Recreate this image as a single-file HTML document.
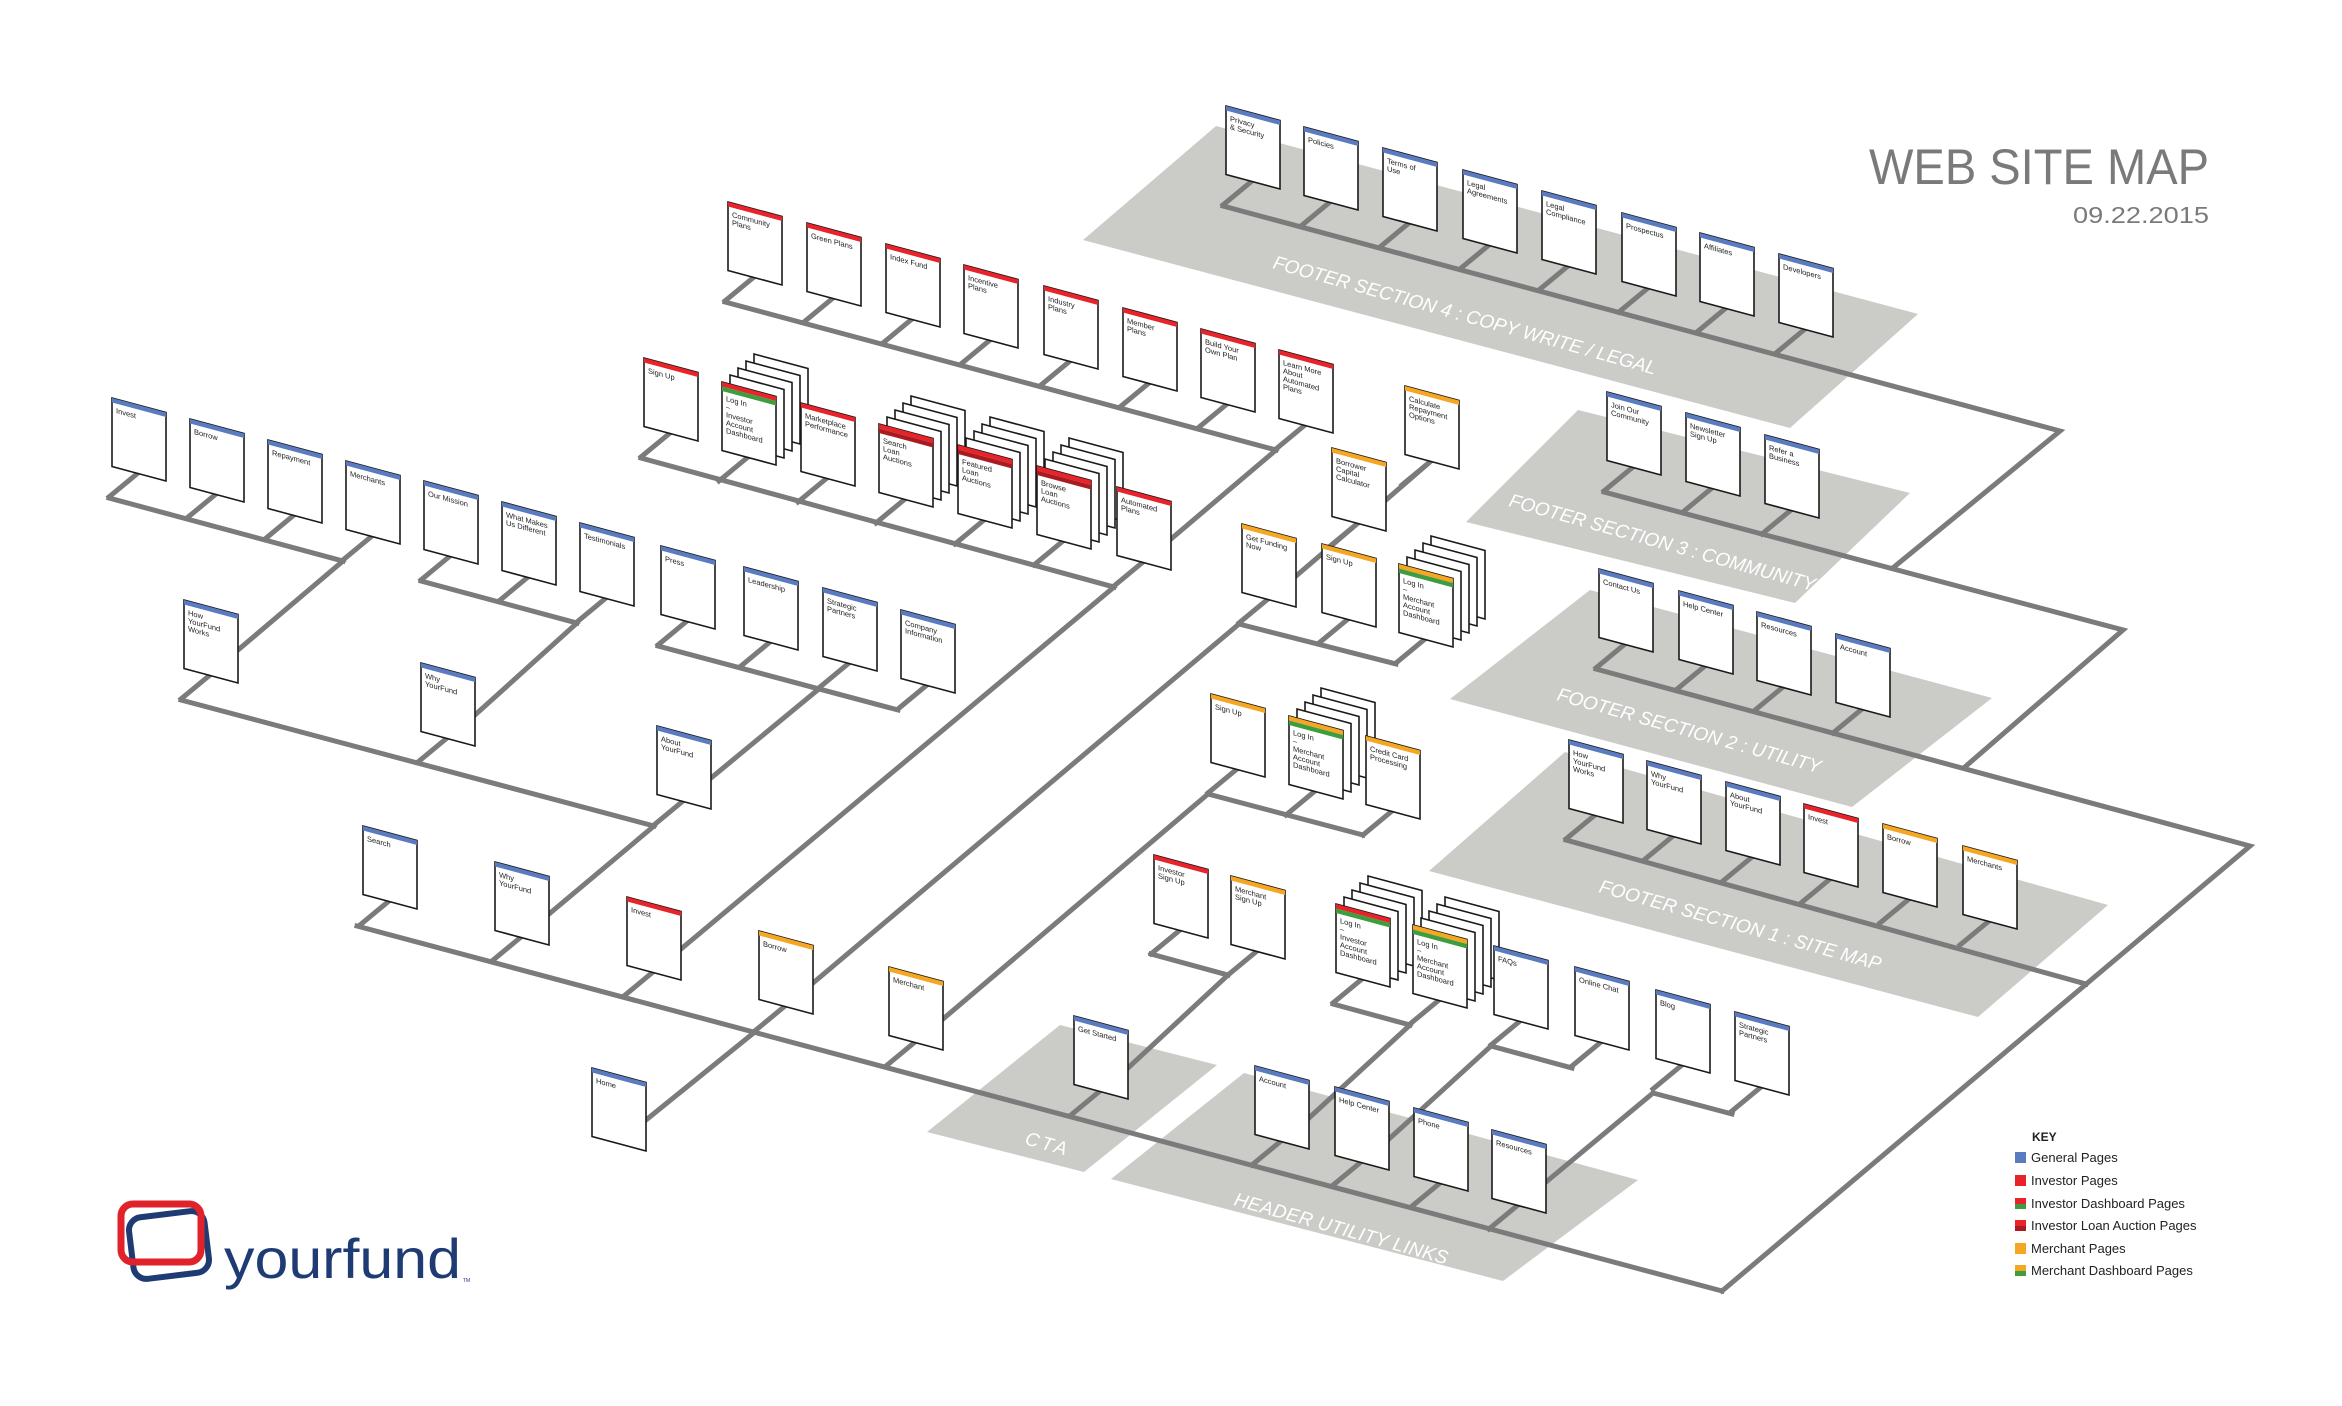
<!DOCTYPE html>
<html><head><meta charset="utf-8"><style>
html,body{margin:0;padding:0;background:#fff;}
svg{display:block}
.ln{stroke:#7b7b7b;stroke-width:5;fill:none;stroke-linecap:square}
.pg{fill:#fff;stroke:#1a1a1a;stroke-width:1.6}
.t{font-family:"Liberation Sans Narrow","Liberation Sans",sans-serif;font-size:7.5px;fill:#222}
.pl{fill:#cbcbc8}
.lb{font-family:"Liberation Sans",sans-serif;font-style:italic;font-size:19px;fill:#fff;letter-spacing:3px}
.lg{font-family:"Liberation Sans Narrow","Liberation Sans",sans-serif;font-size:13px;fill:#222}
</style></head><body>
<svg width="2342" height="1406" viewBox="0 0 2342 1406" xmlns="http://www.w3.org/2000/svg">
<defs>
<symbol id="p" overflow="visible"><path class="pg" d="M0 0L54 14.5L54 83L0 68.5Z"/></symbol>
</defs>

<!-- platforms -->
<path class="pl" d="M1083 240L1216 126L1918 314L1790 428Z"/>
<path class="pl" d="M1466 522L1578 410L1910 493L1795 603Z"/>
<path class="pl" d="M1450 699L1590 590L1992 698L1852 807Z"/>
<path class="pl" d="M1429 871L1565 752L2108 905L1978 1017Z"/>
<path class="pl" d="M927 1132L1060 1025L1217 1065L1084 1172Z"/>
<path class="pl" d="M1111 1179L1244 1073L1638 1180L1503 1281Z"/>

<text class="lb" transform="translate(1272,268) rotate(15.6)" textLength="400" lengthAdjust="spacing">FOOTER SECTION 4 : COPY WRITE / LEGAL</text>
<text class="lb" transform="translate(1508,506) rotate(15.6)" textLength="320" lengthAdjust="spacing">FOOTER SECTION 3 : COMMUNITY</text>
<text class="lb" transform="translate(1556,700) rotate(15.6)" textLength="276" lengthAdjust="spacing">FOOTER SECTION 2 : UTILITY</text>
<text class="lb" transform="translate(1598,892) rotate(15.6)" textLength="295" lengthAdjust="spacing">FOOTER SECTION 1 : SITE MAP</text>
<text class="lb" transform="translate(1024,1144) rotate(15.6)">CTA</text>
<text class="lb" transform="translate(1233,1205) rotate(15.6)" textLength="224" lengthAdjust="spacing">HEADER UTILITY LINKS</text>

<!-- row lines & connectors -->
<g class="ln">
<path d="M109 498L343 561"/>
<path d="M181 700L654 826"/>
<path d="M421 581L577 623"/>
<path d="M658 646L898 710"/>
<path d="M357 926L1722 1291"/>
<path d="M641 458L1114 587"/>
<path d="M725 302L1276 450"/>
<path d="M1239 624L1396 664"/>
<path d="M1208 794L1363 835"/>
<path d="M1151 954L1228 975"/>
<path d="M1333 1004L1410 1025"/>
<path d="M1491 1046L1572 1068"/>
<path d="M1653 1093L1732 1114"/>
<path d="M1223 206L2060 431L1894 567"/>
<path d="M1604 492L2123 630L1966 766"/>
<path d="M1596 669L2250 846L1722 1291"/>
<path d="M1566 840L2086 984"/>
<path d="M238 650L343 561"/>
<path d="M475 715L577 623"/>
<path d="M711 778L820 688"/>
<path d="M549 914L654 826"/>
<path d="M681 949L1114 587"/>
<path d="M1171 539L1276 450"/>
<path d="M813 983L1239 624"/>
<path d="M646 1120L756 1031"/>
<path d="M1296 576L1358 523"/>
<path d="M1386 500L1431 461"/>
<path d="M943 1019L1208 794"/>
<path d="M1128 1068L1228 975"/>
<path d="M1309 1118L1410 1025"/>
<path d="M1389 1139L1491 1046"/>
<path d="M1546 1182L1653 1093"/>
</g>

<!-- ===== pages ===== -->
<!-- Footer 4 -->
<g transform="translate(1226,106)"><path class="ln" d="M26 75L-3 99"/><use href="#p"/><path fill="#5b7bc0" d="M0 0L54 14.5V19L0 4.5Z"/><text class="t" transform="matrix(1 .27 0 1 0 0)"><tspan x="4" y="14">Privacy</tspan><tspan x="4" y="22">&amp; Security</tspan></text></g>
<g transform="translate(1304,127)"><path class="ln" d="M26 75L-3 99"/><use href="#p"/><path fill="#5b7bc0" d="M0 0L54 14.5V19L0 4.5Z"/><text class="t" transform="matrix(1 .27 0 1 0 0)"><tspan x="4" y="14">Policies</tspan></text></g>
<g transform="translate(1383,148)"><path class="ln" d="M26 75L-3 99"/><use href="#p"/><path fill="#5b7bc0" d="M0 0L54 14.5V19L0 4.5Z"/><text class="t" transform="matrix(1 .27 0 1 0 0)"><tspan x="4" y="14">Terms of</tspan><tspan x="4" y="22">Use</tspan></text></g>
<g transform="translate(1463,170)"><path class="ln" d="M26 75L-3 99"/><use href="#p"/><path fill="#5b7bc0" d="M0 0L54 14.5V19L0 4.5Z"/><text class="t" transform="matrix(1 .27 0 1 0 0)"><tspan x="4" y="14">Legal</tspan><tspan x="4" y="22">Agreements</tspan></text></g>
<g transform="translate(1542,191)"><path class="ln" d="M26 75L-3 99"/><use href="#p"/><path fill="#5b7bc0" d="M0 0L54 14.5V19L0 4.5Z"/><text class="t" transform="matrix(1 .27 0 1 0 0)"><tspan x="4" y="14">Legal</tspan><tspan x="4" y="22">Compliance</tspan></text></g>
<g transform="translate(1622,213)"><path class="ln" d="M26 75L-3 99"/><use href="#p"/><path fill="#5b7bc0" d="M0 0L54 14.5V19L0 4.5Z"/><text class="t" transform="matrix(1 .27 0 1 0 0)"><tspan x="4" y="14">Prospectus</tspan></text></g>
<g transform="translate(1700,233)"><path class="ln" d="M26 75L-3 99"/><use href="#p"/><path fill="#5b7bc0" d="M0 0L54 14.5V19L0 4.5Z"/><text class="t" transform="matrix(1 .27 0 1 0 0)"><tspan x="4" y="14">Affiliates</tspan></text></g>
<g transform="translate(1779,254)"><path class="ln" d="M26 75L-3 99"/><use href="#p"/><path fill="#5b7bc0" d="M0 0L54 14.5V19L0 4.5Z"/><text class="t" transform="matrix(1 .27 0 1 0 0)"><tspan x="4" y="14">Developers</tspan></text></g>

<!-- Footer 3 -->
<g transform="translate(1607,392)"><path class="ln" d="M26 75L-3 99"/><use href="#p"/><path fill="#5b7bc0" d="M0 0L54 14.5V19L0 4.5Z"/><text class="t" transform="matrix(1 .27 0 1 0 0)"><tspan x="4" y="14">Join Our</tspan><tspan x="4" y="22">Community</tspan></text></g>
<g transform="translate(1686,413)"><path class="ln" d="M26 75L-3 99"/><use href="#p"/><path fill="#5b7bc0" d="M0 0L54 14.5V19L0 4.5Z"/><text class="t" transform="matrix(1 .27 0 1 0 0)"><tspan x="4" y="14">Newsletter</tspan><tspan x="4" y="22">Sign Up</tspan></text></g>
<g transform="translate(1765,435)"><path class="ln" d="M26 75L-3 99"/><use href="#p"/><path fill="#5b7bc0" d="M0 0L54 14.5V19L0 4.5Z"/><text class="t" transform="matrix(1 .27 0 1 0 0)"><tspan x="4" y="14">Refer a</tspan><tspan x="4" y="22">Business</tspan></text></g>

<!-- Footer 2 -->
<g transform="translate(1599,569)"><path class="ln" d="M26 75L-3 99"/><use href="#p"/><path fill="#5b7bc0" d="M0 0L54 14.5V19L0 4.5Z"/><text class="t" transform="matrix(1 .27 0 1 0 0)"><tspan x="4" y="14">Contact Us</tspan></text></g>
<g transform="translate(1679,591)"><path class="ln" d="M26 75L-3 99"/><use href="#p"/><path fill="#5b7bc0" d="M0 0L54 14.5V19L0 4.5Z"/><text class="t" transform="matrix(1 .27 0 1 0 0)"><tspan x="4" y="14">Help Center</tspan></text></g>
<g transform="translate(1757,612)"><path class="ln" d="M26 75L-3 99"/><use href="#p"/><path fill="#5b7bc0" d="M0 0L54 14.5V19L0 4.5Z"/><text class="t" transform="matrix(1 .27 0 1 0 0)"><tspan x="4" y="14">Resources</tspan></text></g>
<g transform="translate(1836,634)"><path class="ln" d="M26 75L-3 99"/><use href="#p"/><path fill="#5b7bc0" d="M0 0L54 14.5V19L0 4.5Z"/><text class="t" transform="matrix(1 .27 0 1 0 0)"><tspan x="4" y="14">Account</tspan></text></g>

<!-- Footer 1 -->
<g transform="translate(1569,740)"><path class="ln" d="M26 75L-3 99"/><use href="#p"/><path fill="#5b7bc0" d="M0 0L54 14.5V19L0 4.5Z"/><text class="t" transform="matrix(1 .27 0 1 0 0)"><tspan x="4" y="14">How</tspan><tspan x="4" y="22">YourFund</tspan><tspan x="4" y="30">Works</tspan></text></g>
<g transform="translate(1647,761)"><path class="ln" d="M26 75L-3 99"/><use href="#p"/><path fill="#5b7bc0" d="M0 0L54 14.5V19L0 4.5Z"/><text class="t" transform="matrix(1 .27 0 1 0 0)"><tspan x="4" y="14">Why</tspan><tspan x="4" y="22">YourFund</tspan></text></g>
<g transform="translate(1726,782)"><path class="ln" d="M26 75L-3 99"/><use href="#p"/><path fill="#5b7bc0" d="M0 0L54 14.5V19L0 4.5Z"/><text class="t" transform="matrix(1 .27 0 1 0 0)"><tspan x="4" y="14">About</tspan><tspan x="4" y="22">YourFund</tspan></text></g>
<g transform="translate(1804,804)"><path class="ln" d="M26 75L-3 99"/><use href="#p"/><path fill="#e8232a" d="M0 0L54 14.5V19L0 4.5Z"/><text class="t" transform="matrix(1 .27 0 1 0 0)"><tspan x="4" y="14">Invest</tspan></text></g>
<g transform="translate(1883,824)"><path class="ln" d="M26 75L-3 99"/><use href="#p"/><path fill="#f5a623" d="M0 0L54 14.5V19L0 4.5Z"/><text class="t" transform="matrix(1 .27 0 1 0 0)"><tspan x="4" y="14">Borrow</tspan></text></g>
<g transform="translate(1963,846)"><path class="ln" d="M26 75L-3 99"/><use href="#p"/><path fill="#f5a623" d="M0 0L54 14.5V19L0 4.5Z"/><text class="t" transform="matrix(1 .27 0 1 0 0)"><tspan x="4" y="14">Merchants</tspan></text></g>

<!-- Plans row -->
<g transform="translate(728,202)"><path class="ln" d="M26 75L-3 99"/><use href="#p"/><path fill="#e8232a" d="M0 0L54 14.5V19L0 4.5Z"/><text class="t" transform="matrix(1 .27 0 1 0 0)"><tspan x="4" y="14">Community</tspan><tspan x="4" y="22">Plans</tspan></text></g>
<g transform="translate(807,223)"><path class="ln" d="M26 75L-3 99"/><use href="#p"/><path fill="#e8232a" d="M0 0L54 14.5V19L0 4.5Z"/><text class="t" transform="matrix(1 .27 0 1 0 0)"><tspan x="4" y="14">Green Plans</tspan></text></g>
<g transform="translate(886,244)"><path class="ln" d="M26 75L-3 99"/><use href="#p"/><path fill="#e8232a" d="M0 0L54 14.5V19L0 4.5Z"/><text class="t" transform="matrix(1 .27 0 1 0 0)"><tspan x="4" y="14">Index Fund</tspan></text></g>
<g transform="translate(964,265)"><path class="ln" d="M26 75L-3 99"/><use href="#p"/><path fill="#e8232a" d="M0 0L54 14.5V19L0 4.5Z"/><text class="t" transform="matrix(1 .27 0 1 0 0)"><tspan x="4" y="14">Incentive</tspan><tspan x="4" y="22">Plans</tspan></text></g>
<g transform="translate(1044,286)"><path class="ln" d="M26 75L-3 99"/><use href="#p"/><path fill="#e8232a" d="M0 0L54 14.5V19L0 4.5Z"/><text class="t" transform="matrix(1 .27 0 1 0 0)"><tspan x="4" y="14">Industry</tspan><tspan x="4" y="22">Plans</tspan></text></g>
<g transform="translate(1123,308)"><path class="ln" d="M26 75L-3 99"/><use href="#p"/><path fill="#e8232a" d="M0 0L54 14.5V19L0 4.5Z"/><text class="t" transform="matrix(1 .27 0 1 0 0)"><tspan x="4" y="14">Member</tspan><tspan x="4" y="22">Plans</tspan></text></g>
<g transform="translate(1201,329)"><path class="ln" d="M26 75L-3 99"/><use href="#p"/><path fill="#e8232a" d="M0 0L54 14.5V19L0 4.5Z"/><text class="t" transform="matrix(1 .27 0 1 0 0)"><tspan x="4" y="14">Build Your</tspan><tspan x="4" y="22">Own Plan</tspan></text></g>
<g transform="translate(1279,350)"><path class="ln" d="M26 75L-3 99"/><use href="#p"/><path fill="#e8232a" d="M0 0L54 14.5V19L0 4.5Z"/><text class="t" transform="matrix(1 .27 0 1 0 0)"><tspan x="4" y="14">Learn More</tspan><tspan x="4" y="22">About</tspan><tspan x="4" y="30">Automated</tspan><tspan x="4" y="38">Plans</tspan></text></g>

<!-- Investor row -->
<g transform="translate(644,358)"><path class="ln" d="M26 75L-3 99"/><use href="#p"/><path fill="#e8232a" d="M0 0L54 14.5V19L0 4.5Z"/><text class="t" transform="matrix(1 .27 0 1 0 0)"><tspan x="4" y="14">Sign Up</tspan></text></g>
<g transform="translate(722,382)"><use href="#p" x="32" y="-28"/><use href="#p" x="24" y="-21"/><use href="#p" x="16" y="-14"/><use href="#p" x="8" y="-7"/><path class="ln" d="M26 75L-3 99"/><use href="#p"/><path fill="#e8232a" d="M0 0L54 14.5V19L0 4.5Z"/><path fill="#3e9d3e" d="M0 4.5L54 19V23.5L0 9Z"/><text class="t" transform="matrix(1 .27 0 1 0 0)"><tspan x="4" y="18">Log In</tspan><tspan x="4" y="26">–</tspan><tspan x="4" y="34">Investor</tspan><tspan x="4" y="42">Account</tspan><tspan x="4" y="50">Dashboard</tspan></text></g>
<g transform="translate(801,403)"><path class="ln" d="M26 75L-3 99"/><use href="#p"/><path fill="#e8232a" d="M0 0L54 14.5V19L0 4.5Z"/><text class="t" transform="matrix(1 .27 0 1 0 0)"><tspan x="4" y="14">Marketplace</tspan><tspan x="4" y="22">Performance</tspan></text></g>
<g transform="translate(879,424)"><use href="#p" x="32" y="-28"/><use href="#p" x="24" y="-21"/><use href="#p" x="16" y="-14"/><use href="#p" x="8" y="-7"/><path class="ln" d="M26 75L-3 99"/><use href="#p"/><path fill="#e8232a" d="M0 0L54 14.5V19L0 4.5Z"/><path fill="#a81c21" d="M0 4.5L54 19V23.5L0 9Z"/><text class="t" transform="matrix(1 .27 0 1 0 0)"><tspan x="4" y="18">Search</tspan><tspan x="4" y="26">Loan</tspan><tspan x="4" y="34">Auctions</tspan></text></g>
<g transform="translate(958,445)"><use href="#p" x="32" y="-28"/><use href="#p" x="24" y="-21"/><use href="#p" x="16" y="-14"/><use href="#p" x="8" y="-7"/><path class="ln" d="M26 75L-3 99"/><use href="#p"/><path fill="#e8232a" d="M0 0L54 14.5V19L0 4.5Z"/><path fill="#a81c21" d="M0 4.5L54 19V23.5L0 9Z"/><text class="t" transform="matrix(1 .27 0 1 0 0)"><tspan x="4" y="18">Featured</tspan><tspan x="4" y="26">Loan</tspan><tspan x="4" y="34">Auctions</tspan></text></g>
<g transform="translate(1037,466)"><use href="#p" x="32" y="-28"/><use href="#p" x="24" y="-21"/><use href="#p" x="16" y="-14"/><use href="#p" x="8" y="-7"/><path class="ln" d="M26 75L-3 99"/><use href="#p"/><path fill="#e8232a" d="M0 0L54 14.5V19L0 4.5Z"/><path fill="#a81c21" d="M0 4.5L54 19V23.5L0 9Z"/><text class="t" transform="matrix(1 .27 0 1 0 0)"><tspan x="4" y="18">Browse</tspan><tspan x="4" y="26">Loan</tspan><tspan x="4" y="34">Auctions</tspan></text></g>
<g transform="translate(1117,487)"><path class="ln" d="M26 75L-3 99"/><use href="#p"/><path fill="#e8232a" d="M0 0L54 14.5V19L0 4.5Z"/><text class="t" transform="matrix(1 .27 0 1 0 0)"><tspan x="4" y="14">Automated</tspan><tspan x="4" y="22">Plans</tspan></text></g>

<!-- Merchant area -->
<g transform="translate(1405,386)"><path class="ln" d="M26 75L-3 99"/><use href="#p"/><path fill="#f5a623" d="M0 0L54 14.5V19L0 4.5Z"/><text class="t" transform="matrix(1 .27 0 1 0 0)"><tspan x="4" y="14">Calculate</tspan><tspan x="4" y="22">Repayment</tspan><tspan x="4" y="30">Options</tspan></text></g>
<g transform="translate(1332,448)"><path class="ln" d="M26 75L-3 99"/><use href="#p"/><path fill="#f5a623" d="M0 0L54 14.5V19L0 4.5Z"/><text class="t" transform="matrix(1 .27 0 1 0 0)"><tspan x="4" y="14">Borrower</tspan><tspan x="4" y="22">Capital</tspan><tspan x="4" y="30">Calculator</tspan></text></g>
<g transform="translate(1242,524)"><path class="ln" d="M26 75L-3 99"/><use href="#p"/><path fill="#f5a623" d="M0 0L54 14.5V19L0 4.5Z"/><text class="t" transform="matrix(1 .27 0 1 0 0)"><tspan x="4" y="14">Get Funding</tspan><tspan x="4" y="22">Now</tspan></text></g>
<g transform="translate(1322,544)"><path class="ln" d="M26 75L-3 99"/><use href="#p"/><path fill="#f5a623" d="M0 0L54 14.5V19L0 4.5Z"/><text class="t" transform="matrix(1 .27 0 1 0 0)"><tspan x="4" y="14">Sign Up</tspan></text></g>
<g transform="translate(1399,564)"><use href="#p" x="32" y="-28"/><use href="#p" x="24" y="-21"/><use href="#p" x="16" y="-14"/><use href="#p" x="8" y="-7"/><path class="ln" d="M26 75L-3 99"/><use href="#p"/><path fill="#f5a623" d="M0 0L54 14.5V19L0 4.5Z"/><path fill="#3e9d3e" d="M0 4.5L54 19V23.5L0 9Z"/><text class="t" transform="matrix(1 .27 0 1 0 0)"><tspan x="4" y="18">Log In</tspan><tspan x="4" y="26">–</tspan><tspan x="4" y="34">Merchant</tspan><tspan x="4" y="42">Account</tspan><tspan x="4" y="50">Dashboard</tspan></text></g>

<g transform="translate(1211,694)"><path class="ln" d="M26 75L-3 99"/><use href="#p"/><path fill="#f5a623" d="M0 0L54 14.5V19L0 4.5Z"/><text class="t" transform="matrix(1 .27 0 1 0 0)"><tspan x="4" y="14">Sign Up</tspan></text></g>
<g transform="translate(1289,716)"><use href="#p" x="32" y="-28"/><use href="#p" x="24" y="-21"/><use href="#p" x="16" y="-14"/><use href="#p" x="8" y="-7"/><path class="ln" d="M26 75L-3 99"/><use href="#p"/><path fill="#f5a623" d="M0 0L54 14.5V19L0 4.5Z"/><path fill="#3e9d3e" d="M0 4.5L54 19V23.5L0 9Z"/><text class="t" transform="matrix(1 .27 0 1 0 0)"><tspan x="4" y="18">Log In</tspan><tspan x="4" y="26">–</tspan><tspan x="4" y="34">Merchant</tspan><tspan x="4" y="42">Account</tspan><tspan x="4" y="50">Dashboard</tspan></text></g>
<g transform="translate(1366,736)"><path class="ln" d="M26 75L-3 99"/><use href="#p"/><path fill="#f5a623" d="M0 0L54 14.5V19L0 4.5Z"/><text class="t" transform="matrix(1 .27 0 1 0 0)"><tspan x="4" y="14">Credit Card</tspan><tspan x="4" y="22">Processing</tspan></text></g>

<g transform="translate(1154,855)"><path class="ln" d="M26 75L-3 99"/><use href="#p"/><path fill="#e8232a" d="M0 0L54 14.5V19L0 4.5Z"/><text class="t" transform="matrix(1 .27 0 1 0 0)"><tspan x="4" y="14">Investor</tspan><tspan x="4" y="22">Sign Up</tspan></text></g>
<g transform="translate(1231,876)"><path class="ln" d="M26 75L-3 99"/><use href="#p"/><path fill="#f5a623" d="M0 0L54 14.5V19L0 4.5Z"/><text class="t" transform="matrix(1 .27 0 1 0 0)"><tspan x="4" y="14">Merchant</tspan><tspan x="4" y="22">Sign Up</tspan></text></g>
<g transform="translate(1336,904)"><use href="#p" x="32" y="-28"/><use href="#p" x="24" y="-21"/><use href="#p" x="16" y="-14"/><use href="#p" x="8" y="-7"/><path class="ln" d="M26 75L-3 99"/><use href="#p"/><path fill="#e8232a" d="M0 0L54 14.5V19L0 4.5Z"/><path fill="#3e9d3e" d="M0 4.5L54 19V23.5L0 9Z"/><text class="t" transform="matrix(1 .27 0 1 0 0)"><tspan x="4" y="18">Log In</tspan><tspan x="4" y="26">–</tspan><tspan x="4" y="34">Investor</tspan><tspan x="4" y="42">Account</tspan><tspan x="4" y="50">Dashboard</tspan></text></g>
<g transform="translate(1413,925)"><use href="#p" x="32" y="-28"/><use href="#p" x="24" y="-21"/><use href="#p" x="16" y="-14"/><use href="#p" x="8" y="-7"/><path class="ln" d="M26 75L-3 99"/><use href="#p"/><path fill="#f5a623" d="M0 0L54 14.5V19L0 4.5Z"/><path fill="#3e9d3e" d="M0 4.5L54 19V23.5L0 9Z"/><text class="t" transform="matrix(1 .27 0 1 0 0)"><tspan x="4" y="18">Log In</tspan><tspan x="4" y="26">–</tspan><tspan x="4" y="34">Merchant</tspan><tspan x="4" y="42">Account</tspan><tspan x="4" y="50">Dashboard</tspan></text></g>
<g transform="translate(1494,946)"><path class="ln" d="M26 75L-3 99"/><use href="#p"/><path fill="#5b7bc0" d="M0 0L54 14.5V19L0 4.5Z"/><text class="t" transform="matrix(1 .27 0 1 0 0)"><tspan x="4" y="14">FAQs</tspan></text></g>
<g transform="translate(1575,967)"><path class="ln" d="M26 75L-3 99"/><use href="#p"/><path fill="#5b7bc0" d="M0 0L54 14.5V19L0 4.5Z"/><text class="t" transform="matrix(1 .27 0 1 0 0)"><tspan x="4" y="14">Online Chat</tspan></text></g>
<g transform="translate(1656,990)"><path class="ln" d="M26 75L-3 99"/><use href="#p"/><path fill="#5b7bc0" d="M0 0L54 14.5V19L0 4.5Z"/><text class="t" transform="matrix(1 .27 0 1 0 0)"><tspan x="4" y="14">Blog</tspan></text></g>
<g transform="translate(1735,1012)"><path class="ln" d="M26 75L-3 99"/><use href="#p"/><path fill="#5b7bc0" d="M0 0L54 14.5V19L0 4.5Z"/><text class="t" transform="matrix(1 .27 0 1 0 0)"><tspan x="4" y="14">Strategic</tspan><tspan x="4" y="22">Partners</tspan></text></g>

<!-- Left groups -->
<g transform="translate(112,398)"><path class="ln" d="M26 75L-3 99"/><use href="#p"/><path fill="#5b7bc0" d="M0 0L54 14.5V19L0 4.5Z"/><text class="t" transform="matrix(1 .27 0 1 0 0)"><tspan x="4" y="14">Invest</tspan></text></g>
<g transform="translate(190,419)"><path class="ln" d="M26 75L-3 99"/><use href="#p"/><path fill="#5b7bc0" d="M0 0L54 14.5V19L0 4.5Z"/><text class="t" transform="matrix(1 .27 0 1 0 0)"><tspan x="4" y="14">Borrow</tspan></text></g>
<g transform="translate(268,440)"><path class="ln" d="M26 75L-3 99"/><use href="#p"/><path fill="#5b7bc0" d="M0 0L54 14.5V19L0 4.5Z"/><text class="t" transform="matrix(1 .27 0 1 0 0)"><tspan x="4" y="14">Repayment</tspan></text></g>
<g transform="translate(346,461)"><path class="ln" d="M26 75L-3 99"/><use href="#p"/><path fill="#5b7bc0" d="M0 0L54 14.5V19L0 4.5Z"/><text class="t" transform="matrix(1 .27 0 1 0 0)"><tspan x="4" y="14">Merchants</tspan></text></g>
<g transform="translate(424,481)"><path class="ln" d="M26 75L-3 99"/><use href="#p"/><path fill="#5b7bc0" d="M0 0L54 14.5V19L0 4.5Z"/><text class="t" transform="matrix(1 .27 0 1 0 0)"><tspan x="4" y="14">Our Mission</tspan></text></g>
<g transform="translate(502,502)"><path class="ln" d="M26 75L-3 99"/><use href="#p"/><path fill="#5b7bc0" d="M0 0L54 14.5V19L0 4.5Z"/><text class="t" transform="matrix(1 .27 0 1 0 0)"><tspan x="4" y="14">What Makes</tspan><tspan x="4" y="22">Us Different</tspan></text></g>
<g transform="translate(580,523)"><path class="ln" d="M26 75L-3 99"/><use href="#p"/><path fill="#5b7bc0" d="M0 0L54 14.5V19L0 4.5Z"/><text class="t" transform="matrix(1 .27 0 1 0 0)"><tspan x="4" y="14">Testimonials</tspan></text></g>
<g transform="translate(661,546)"><path class="ln" d="M26 75L-3 99"/><use href="#p"/><path fill="#5b7bc0" d="M0 0L54 14.5V19L0 4.5Z"/><text class="t" transform="matrix(1 .27 0 1 0 0)"><tspan x="4" y="14">Press</tspan></text></g>
<g transform="translate(744,567)"><path class="ln" d="M26 75L-3 99"/><use href="#p"/><path fill="#5b7bc0" d="M0 0L54 14.5V19L0 4.5Z"/><text class="t" transform="matrix(1 .27 0 1 0 0)"><tspan x="4" y="14">Leadership</tspan></text></g>
<g transform="translate(823,588)"><path class="ln" d="M26 75L-3 99"/><use href="#p"/><path fill="#5b7bc0" d="M0 0L54 14.5V19L0 4.5Z"/><text class="t" transform="matrix(1 .27 0 1 0 0)"><tspan x="4" y="14">Strategic</tspan><tspan x="4" y="22">Partners</tspan></text></g>
<g transform="translate(901,610)"><path class="ln" d="M26 75L-3 99"/><use href="#p"/><path fill="#5b7bc0" d="M0 0L54 14.5V19L0 4.5Z"/><text class="t" transform="matrix(1 .27 0 1 0 0)"><tspan x="4" y="14">Company</tspan><tspan x="4" y="22">Information</tspan></text></g>
<g transform="translate(184,600)"><path class="ln" d="M26 75L-3 99"/><use href="#p"/><path fill="#5b7bc0" d="M0 0L54 14.5V19L0 4.5Z"/><text class="t" transform="matrix(1 .27 0 1 0 0)"><tspan x="4" y="14">How</tspan><tspan x="4" y="22">YourFund</tspan><tspan x="4" y="30">Works</tspan></text></g>
<g transform="translate(421,663)"><path class="ln" d="M26 75L-3 99"/><use href="#p"/><path fill="#5b7bc0" d="M0 0L54 14.5V19L0 4.5Z"/><text class="t" transform="matrix(1 .27 0 1 0 0)"><tspan x="4" y="14">Why</tspan><tspan x="4" y="22">YourFund</tspan></text></g>
<g transform="translate(657,726)"><path class="ln" d="M26 75L-3 99"/><use href="#p"/><path fill="#5b7bc0" d="M0 0L54 14.5V19L0 4.5Z"/><text class="t" transform="matrix(1 .27 0 1 0 0)"><tspan x="4" y="14">About</tspan><tspan x="4" y="22">YourFund</tspan></text></g>

<!-- spine pages -->
<g transform="translate(363,826)"><path class="ln" d="M26 75L-3 99"/><use href="#p"/><path fill="#5b7bc0" d="M0 0L54 14.5V19L0 4.5Z"/><text class="t" transform="matrix(1 .27 0 1 0 0)"><tspan x="4" y="14">Search</tspan></text></g>
<g transform="translate(495,862)"><path class="ln" d="M26 75L-3 99"/><use href="#p"/><path fill="#5b7bc0" d="M0 0L54 14.5V19L0 4.5Z"/><text class="t" transform="matrix(1 .27 0 1 0 0)"><tspan x="4" y="14">Why</tspan><tspan x="4" y="22">YourFund</tspan></text></g>
<g transform="translate(627,897)"><path class="ln" d="M26 75L-3 99"/><use href="#p"/><path fill="#e8232a" d="M0 0L54 14.5V19L0 4.5Z"/><text class="t" transform="matrix(1 .27 0 1 0 0)"><tspan x="4" y="14">Invest</tspan></text></g>
<g transform="translate(759,931)"><path class="ln" d="M26 75L-3 99"/><use href="#p"/><path fill="#f5a623" d="M0 0L54 14.5V19L0 4.5Z"/><text class="t" transform="matrix(1 .27 0 1 0 0)"><tspan x="4" y="14">Borrow</tspan></text></g>
<g transform="translate(889,967)"><path class="ln" d="M26 75L-3 99"/><use href="#p"/><path fill="#f5a623" d="M0 0L54 14.5V19L0 4.5Z"/><text class="t" transform="matrix(1 .27 0 1 0 0)"><tspan x="4" y="14">Merchant</tspan></text></g>
<g transform="translate(1074,1016)"><path class="ln" d="M26 75L-3 99"/><use href="#p"/><path fill="#5b7bc0" d="M0 0L54 14.5V19L0 4.5Z"/><text class="t" transform="matrix(1 .27 0 1 0 0)"><tspan x="4" y="14">Get Started</tspan></text></g>
<g transform="translate(1255,1066)"><path class="ln" d="M26 75L-3 99"/><use href="#p"/><path fill="#5b7bc0" d="M0 0L54 14.5V19L0 4.5Z"/><text class="t" transform="matrix(1 .27 0 1 0 0)"><tspan x="4" y="14">Account</tspan></text></g>
<g transform="translate(1335,1087)"><path class="ln" d="M26 75L-3 99"/><use href="#p"/><path fill="#5b7bc0" d="M0 0L54 14.5V19L0 4.5Z"/><text class="t" transform="matrix(1 .27 0 1 0 0)"><tspan x="4" y="14">Help Center</tspan></text></g>
<g transform="translate(1414,1108)"><path class="ln" d="M26 75L-3 99"/><use href="#p"/><path fill="#5b7bc0" d="M0 0L54 14.5V19L0 4.5Z"/><text class="t" transform="matrix(1 .27 0 1 0 0)"><tspan x="4" y="14">Phone</tspan></text></g>
<g transform="translate(1492,1130)"><path class="ln" d="M26 75L-3 99"/><use href="#p"/><path fill="#5b7bc0" d="M0 0L54 14.5V19L0 4.5Z"/><text class="t" transform="matrix(1 .27 0 1 0 0)"><tspan x="4" y="14">Resources</tspan></text></g>
<g transform="translate(592,1068)"><use href="#p"/><path fill="#5b7bc0" d="M0 0L54 14.5V19L0 4.5Z"/><text class="t" transform="matrix(1 .27 0 1 0 0)"><tspan x="4" y="14">Home</tspan></text></g>

<!-- Title -->
<text x="2209" y="184" text-anchor="end" font-family="'Liberation Sans Narrow','Liberation Sans',sans-serif" font-size="50" fill="#7a7a7a" textLength="340" lengthAdjust="spacingAndGlyphs">WEB SITE MAP</text>
<text x="2209" y="223" text-anchor="end" font-family="'Liberation Sans Narrow','Liberation Sans',sans-serif" font-size="23" fill="#7a7a7a" textLength="136" lengthAdjust="spacingAndGlyphs">09.22.2015</text>

<!-- Legend -->
<text x="2032" y="1141" font-family="'Liberation Sans Narrow','Liberation Sans',sans-serif" font-size="12" font-weight="bold" fill="#222">KEY</text>
<rect x="2015" y="1152" width="11" height="11" fill="#5b7bc0"/>
<text class="lg" x="2031" y="1162">General Pages</text>
<rect x="2015" y="1175" width="11" height="11" fill="#e8232a"/>
<text class="lg" x="2031" y="1185">Investor Pages</text>
<rect x="2015" y="1198" width="11" height="6" fill="#e8232a"/><rect x="2015" y="1204" width="11" height="5" fill="#3e9d3e"/>
<text class="lg" x="2031" y="1208">Investor Dashboard Pages</text>
<rect x="2015" y="1220" width="11" height="6" fill="#e8232a"/><rect x="2015" y="1226" width="11" height="5" fill="#a81c21"/>
<text class="lg" x="2031" y="1230">Investor Loan Auction Pages</text>
<rect x="2015" y="1243" width="11" height="11" fill="#f5a623"/>
<text class="lg" x="2031" y="1253">Merchant Pages</text>
<rect x="2015" y="1265" width="11" height="6" fill="#f5a623"/><rect x="2015" y="1271" width="11" height="5" fill="#3e9d3e"/>
<text class="lg" x="2031" y="1275">Merchant Dashboard Pages</text>

<!-- Logo -->
<rect x="131" y="1214" width="76" height="62" rx="13" fill="none" stroke="#1f3b73" stroke-width="6" transform="rotate(-7 169 1245)"/>
<rect x="121" y="1204" width="80" height="58" rx="12" fill="none" stroke="#e0232b" stroke-width="7"/>
<text x="224" y="1278" font-family="'Liberation Sans',sans-serif" font-size="56" fill="#1f3b73" textLength="237" lengthAdjust="spacingAndGlyphs">yourfund</text>
<text x="463" y="1282" font-family="'Liberation Sans',sans-serif" font-size="5" fill="#1f3b73">TM</text>
</svg>
</body></html>
